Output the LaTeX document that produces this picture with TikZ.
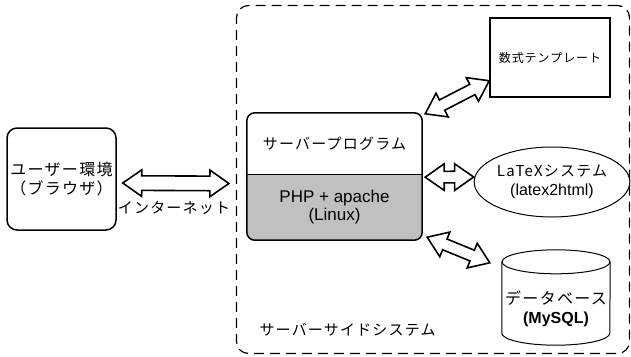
\documentclass[tikz,border=0pt]{standalone}
\usepackage{fontspec}
\setmainfont{Liberation Sans}
\newfontfamily\jp[LetterSpace=8]{Noto Sans CJK JP}
\newfontfamily\lat{Liberation Sans}
\usetikzlibrary{shapes.geometric,shapes.arrows,calc,backgrounds}
\definecolor{phpgray}{RGB}{192,192,192}
\newcommand\blockarrow[3]{%
  \path let \p1=(#2), \p2=(#3), \n1={atan2(\y2-\y1,\x2-\x1)}, \n2={veclen(\x2-\x1,\y2-\y1)} in
    node[dblarrow,#1,rotate=\n1,minimum height=\n2] at ($(\p1)!0.5!(\p2)$) {};}
\begin{document}
\begin{tikzpicture}[x=1pt,y=-1pt,
  box/.style={draw, line width=1.5pt},
  jtext/.style={font=\jp\fontsize{15}{19}\selectfont, align=center},
  dblarrow/.style={double arrow, draw, line width=1.6pt, fill=white, inner xsep=0pt, inner ysep=5pt,
    minimum width=0pt, double arrow head extend=7.5pt, double arrow tip angle=70, anchor=center},
]
\useasboundingbox (0,0) rectangle (631,356);
% outer server-side system
\node[draw, line width=1.2pt, dash pattern=on 10pt off 6pt, rounded corners=12pt,
  minimum width=393pt, minimum height=348pt, inner sep=0] (outer) at (433,179.5) {};
\node[jtext, anchor=west] (sslabel) at (256,330) {サーバーサイドシステム};
% user box
\node[box, rounded corners=10pt, minimum width=109pt, minimum height=102pt, inner sep=0, jtext,
  font=\jp\fontsize{16}{19}\selectfont] (user) at (61.5,179)
  {ユーザー環境\\（ブラウザ）};
% server program box
\node[minimum width=175pt, minimum height=62pt, inner sep=0, jtext] (prog) at (334.5,144) {サーバープログラム};
\node[minimum width=175pt, minimum height=65pt, inner sep=0, align=center, font=\lat\fontsize{17}{18}\selectfont] (php) at (334.5,207.5)
  {PHP + apache\\(Linux)};
\begin{scope}[on background layer]
  \clip[rounded corners=8pt] (prog.north west) rectangle (php.south east);
  \fill[phpgray] (php.north west) rectangle (php.south east);
\end{scope}
\draw[box, rounded corners=8pt] (prog.north west) rectangle (php.south east);
\draw[line width=0.8pt] (php.north west) -- (php.north east);
% template
\node[box, minimum width=120pt, minimum height=79pt, inner sep=0, font=\jp\fontsize{12}{14}\selectfont] (tmpl) at (550,57.5) {数式テンプレート};
% latex ellipse
\node[draw, ellipse, line width=1pt, minimum width=131pt, minimum height=70pt, inner sep=0, jtext] (latex) at (552,182)
  {LaTeXシステム\\{\lat\fontsize{16}{16}\selectfont (latex2html)}};
% database cylinder
\node[minimum width=108pt, minimum height=95pt, inner sep=0] (db) at (556,297.5) {};
\draw[line width=1pt] ($(db.north west)+(0,12)$) -- ($(db.south west)+(0,-12)$)
  arc[start angle=180, end angle=360, x radius=54pt, y radius=12pt] -- ($(db.north east)+(0,12)$);
\draw[line width=1pt] ($(db.north)+(0,12)$) ellipse [x radius=54pt, y radius=12pt];
\node[jtext, font=\jp\fontsize{16}{19}\selectfont] (dblabel) at ($(db.center)+(0,11)$)
  {データベース\\{\lat\bfseries\fontsize{16}{17}\selectfont (MySQL)}};
% internet
\node[jtext] (inet) at (174,208) {インターネット};
% arrows
\blockarrow{inner ysep=6.5pt, double arrow head extend=6pt}{$(user.east)+(6,4)$}{$(outer.west)+(-7,4)$}
\blockarrow{}{$(prog.north east)+(3,1)$}{$(tmpl.south west)+(0,-17)$}
\blockarrow{}{$(prog.south east)+(3,2)$}{$(latex.west)+(0,-5)$}
\blockarrow{}{$(php.south east)+(5,-3)$}{$(db.north west)+(-12,13)$}
\end{tikzpicture}
\end{document}
